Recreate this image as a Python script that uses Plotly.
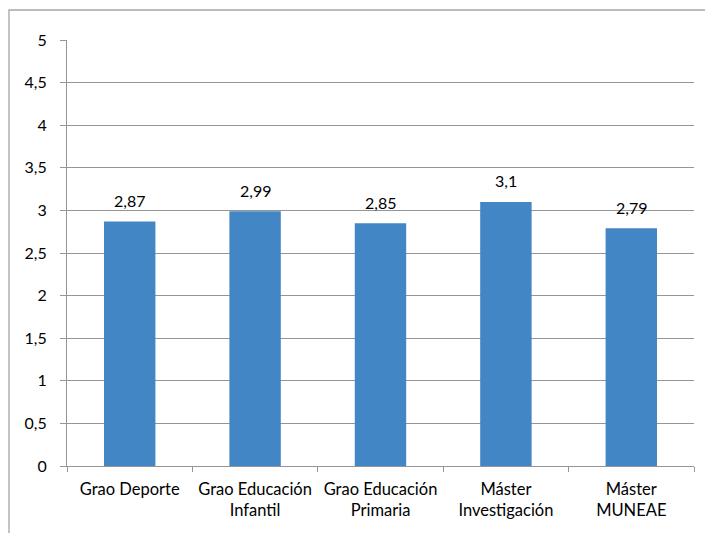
import plotly.graph_objects as go

categories = ["Grao Deporte", "Grao Educación<br>Infantil", "Grao Educación<br>Primaria",
              "Máster<br>Investigación", "Máster<br>MUNEAE"]
values = [2.87, 2.99, 2.85, 3.1, 2.79]
value_labels = ["2,87", "2,99", "2,85", "3,1", "2,79"]
y_ticks = [0, 0.5, 1, 1.5, 2, 2.5, 3, 3.5, 4, 4.5, 5]
y_tick_labels = ["0", "0,5", "1", "1,5", "2", "2,5", "3", "3,5", "4", "4,5", "5"]

FONT = "Lato"
GRID = "#959595"
BAR = "#4386C6"

fig = go.Figure()
fig.add_trace(go.Bar(x=categories, y=values, marker=dict(color=BAR, line=dict(width=0)),
                     width=0.41, hoverinfo="skip"))

for c, v, t in zip(categories, values, value_labels):
    fig.add_annotation(x=c, y=v, text=t, showarrow=False, yshift=21,
                       font=dict(family=FONT, size=16, color="#000000"))

OFF = 8  # page body offset
W, H = 713, 533
PL, PR, PT, PB = 67, 694, 40, 466  # plot area in page coords
L, T = PL - OFF, PT - OFF
R = W - (PR - OFF)
B = H - (PB - OFF)
pw, ph = PR - PL, PB - PT
fig.add_shape(type="rect", xref="paper", yref="paper",
              x0=(9 - PL) / pw, x1=(W + 20 - PL) / pw,
              y0=-(H + 20 - PB) / ph, y1=(PB - 10) / ph,
              line=dict(color="#a6a6a6", width=1.3), fillcolor="rgba(0,0,0,0)", layer="below")

fig.update_layout(
    width=W, height=H,
    margin=dict(l=L, r=R, t=T, b=B, pad=0, autoexpand=False),
    paper_bgcolor="white", plot_bgcolor="white",
    showlegend=False,
    font=dict(family=FONT, size=16, color="#000000"),
    xaxis=dict(
        type="category", tickson="boundaries", ticks="outside", ticklen=5,
        tickcolor=GRID, showline=True, linecolor=GRID, linewidth=1,
        showgrid=False, tickfont=dict(family=FONT, size=16.5, color="#000000"),
        tickangle=0, automargin=False,
        ticklabelstandoff=8, fixedrange=True,
    ),
    yaxis=dict(
        range=[0, 5], tickvals=y_ticks, ticktext=y_tick_labels,
        ticks="outside", ticklen=6, tickcolor=GRID,
        showline=True, linecolor=GRID, linewidth=1,
        showgrid=True, gridcolor=GRID, gridwidth=1, zeroline=False,
        tickfont=dict(family=FONT, size=16, color="#000000"),
        automargin=False,
        ticklabelstandoff=10, fixedrange=True,
    ),
)

fig.write_html("out.html")
